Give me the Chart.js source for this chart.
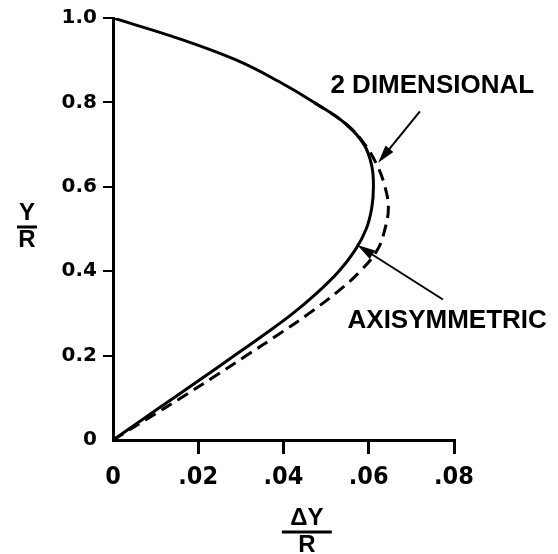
<!DOCTYPE html>
<html>
<head>
<meta charset="utf-8">
<script src="https://cdn.jsdelivr.net/npm/chart.js@4/dist/chart.umd.min.js"></script>
<style>
  body { margin: 0; background: #fff; }
  canvas { display: block; }
</style>
</head>
<body>
<canvas id="profile" width="558" height="554"></canvas>
<script>
// thickness distribution, ΔY/R against Y/R
var axiX = [0, 0.0158, 0.0290, 0.0388, 0.0472, 0.0545, 0.0589, 0.0607, 0.0611, 0.0607, 0.0594, 0.0568, 0.0530, 0.0480, 0.0422, 0.0355, 0.0285, 0.0214, 0.0143, 0.0071, 0];
var axiY = [1.0, 0.95, 0.90, 0.85, 0.80, 0.75, 0.70, 0.65, 0.60, 0.55, 0.50, 0.45, 0.40, 0.35, 0.30, 0.25, 0.20, 0.15, 0.10, 0.05, 0];

var twoDX = [0.0472, 0.0545, 0.0591, 0.0620, 0.0638, 0.0646, 0.0638, 0.0620, 0.0580, 0.0525, 0.0460, 0.0388, 0.0313, 0.0237, 0.0160, 0.0080, 0];
var twoDY = [0.80, 0.75, 0.70, 0.65, 0.60, 0.55, 0.50, 0.45, 0.40, 0.35, 0.30, 0.25, 0.20, 0.15, 0.10, 0.05, 0];

var xTicks = [0, 0.02, 0.04, 0.06, 0.08];
var yTicks = [0, 0.2, 0.4, 0.6, 0.8, 1.0];

// label text, anchor point and arrow (from -> tip) in data units
var notes = [
  { text: '2 DIMENSIONAL', at: [0.0749, 0.840], from: [0.0720, 0.779], tip: [0.0622, 0.657] },
  { text: 'AXISYMMETRIC',  at: [0.0784, 0.282], from: [0.0774, 0.333], tip: [0.0573, 0.462] }
];

function toPoints(xs, ys) {
  var pts = [];
  for (var i = 0; i < xs.length; i++) pts.push({ x: xs[i], y: ys[i] });
  return pts;
}

function drawArrow(ctx, x1, y1, x2, y2) {
  var ang = Math.atan2(y2 - y1, x2 - x1);
  var len = 18, half = 5;
  ctx.beginPath();
  ctx.moveTo(x1, y1);
  ctx.lineTo(x2 - Math.cos(ang) * len * 0.8, y2 - Math.sin(ang) * len * 0.8);
  ctx.lineWidth = 2;
  ctx.stroke();
  ctx.beginPath();
  ctx.moveTo(x2, y2);
  ctx.lineTo(x2 - Math.cos(ang) * len - Math.sin(ang) * half, y2 - Math.sin(ang) * len + Math.cos(ang) * half);
  ctx.lineTo(x2 - Math.cos(ang) * len + Math.sin(ang) * half, y2 - Math.sin(ang) * len - Math.cos(ang) * half);
  ctx.closePath();
  ctx.fill();
}

function drawFraction(ctx, top, bottom, cx, cy, barHalf) {
  ctx.textAlign = 'center';
  ctx.textBaseline = 'middle';
  ctx.fillText(top, cx, cy - 14);
  ctx.fillText(bottom, cx, cy + 13);
  ctx.beginPath();
  ctx.moveTo(cx - barHalf, cy);
  ctx.lineTo(cx + barHalf, cy);
  ctx.lineWidth = 3;
  ctx.stroke();
}

var labelsPlugin = {
  id: 'labels',
  afterDraw: function(chart) {
    var ctx = chart.ctx;
    var xs = chart.scales.x, ys = chart.scales.y;
    var area = chart.chartArea;
    ctx.save();
    ctx.fillStyle = '#000';
    ctx.strokeStyle = '#000';

    notes.forEach(function(n) {
      ctx.font = 'bold 26px "Liberation Sans", Arial, sans-serif';
      ctx.textAlign = 'center';
      ctx.textBaseline = 'middle';
      ctx.fillText(n.text, xs.getPixelForValue(n.at[0]), ys.getPixelForValue(n.at[1]));
      drawArrow(ctx,
        xs.getPixelForValue(n.from[0]), ys.getPixelForValue(n.from[1]),
        xs.getPixelForValue(n.tip[0]), ys.getPixelForValue(n.tip[1]));
    });

    // axis titles written as fractions
    ctx.font = 'bold 24px "Liberation Sans", Arial, sans-serif';
    drawFraction(ctx, 'Y', 'R', area.left - 86, area.top + 209, 10);
    drawFraction(ctx, 'ΔY', 'R', xs.getPixelForValue(0.045) + 2, area.bottom + 92, 25);
    ctx.restore();
  }
};

var Cnvs = document.getElementById('profile');

var option = {
  responsive: false,
  animation: false,
  layout: { padding: { top: 14, right: 104, left: 0, bottom: 0 } },
  plugins: { legend: { display: false }, tooltip: { enabled: false } },
  elements: { point: { radius: 0 } },
  scales: {
    x: {
      type: 'linear',
      min: 0,
      max: 0.08,
      afterFit: function(scale) { scale.height = 114; },
      afterBuildTicks: function(scale) { scale.ticks = xTicks.map(function(v) { return { value: v }; }); },
      border: { display: true, color: '#000', width: 3 },
      grid: {
        drawOnChartArea: false,
        tickLength: 14,
        lineWidth: 3,
        color: function(c) { return c.tick && c.tick.value === 0 ? 'rgba(0,0,0,0)' : '#000'; }
      },
      ticks: {
        color: '#000',
        padding: 8,
        maxRotation: 0,
        font: { family: '"DejaVu Sans Condensed", "DejaVu Sans", sans-serif', size: 25, weight: 'bold' },
        callback: function(v) { return v === 0 ? '0' : v.toFixed(2).replace(/^0/, ''); }
      }
    },
    y: {
      type: 'linear',
      min: 0,
      max: 1.0,
      afterFit: function(scale) { scale.width = 113; },
      afterBuildTicks: function(scale) { scale.ticks = yTicks.map(function(v) { return { value: v }; }); },
      border: { display: true, color: '#000', width: 3 },
      grid: {
        drawOnChartArea: false,
        tickLength: 10,
        lineWidth: 2,
        color: function(c) { return c.tick && c.tick.value === 0 ? 'rgba(0,0,0,0)' : '#000'; }
      },
      ticks: {
        color: '#000',
        padding: 6,
        font: { family: '"DejaVu Sans", sans-serif', size: 20, weight: 'bold' },
        callback: function(v) { return v === 0 ? '0' : v.toFixed(1); }
      }
    }
  }
};

var profileChart = new Chart(Cnvs, {
  type: 'scatter',
  data: {
    datasets: [
      {
        label: 'AXISYMMETRIC',
        data: toPoints(axiX, axiY),
        showLine: true,
        borderColor: '#000',
        borderWidth: 3,
        tension: 0.4,
        fill: false
      },
      {
        label: '2 DIMENSIONAL',
        data: toPoints(twoDX, twoDY),
        showLine: true,
        borderColor: '#000',
        borderWidth: 3,
        borderDash: [12, 7],
        tension: 0.4,
        fill: false
      }
    ]
  },
  options: option,
  plugins: [labelsPlugin]
});
</script>
</body>
</html>
